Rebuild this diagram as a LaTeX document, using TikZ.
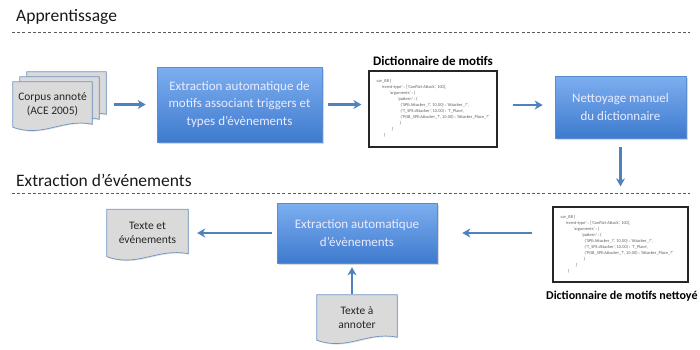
\documentclass[tikz,border=0pt]{standalone}
\usepackage{fontspec}
\setmainfont{Carlito}
\usetikzlibrary{arrows.meta,shadows,calc}
\definecolor{arrowblue}{RGB}{79,129,189}
\definecolor{boxtop}{RGB}{125,175,240}
\definecolor{boxbot}{RGB}{62,122,206}
\definecolor{boxedge}{RGB}{90,140,210}
\definecolor{docfill}{RGB}{218,218,218}
\definecolor{docedge}{RGB}{112,146,196}
\definecolor{dashgray}{RGB}{90,90,90}
\definecolor{codegray}{RGB}{95,95,95}
\tikzset{
  flow/.style={draw=arrowblue, line width=2.2pt, -{Stealth[length=8pt,width=9pt,inset=2.5pt]}},
  procbox/.style={rectangle, draw=boxedge, line width=0.6pt, top color=boxtop, bottom color=boxbot,
    text=white!92!blue, align=center, inner sep=0pt, font=\fontsize{13}{17.5}\selectfont,
    drop shadow={opacity=0.3, shadow xshift=1.5pt, shadow yshift=-1.5pt}},
  docnode/.style={rectangle, inner sep=0pt, align=center, text=black!85, font=\fontsize{11.5}{14.5}\selectfont},
  docshape/.style={draw=docedge, line width=0.7pt, fill=docfill},
  docshadow/.style={drop shadow={opacity=0.25, shadow xshift=1pt, shadow yshift=-1pt}},
  dictbox/.style={rectangle, draw=black!85, line width=1.2pt, fill=white, inner sep=0pt},
  codetxt/.style={inner sep=0pt, align=left, text=codegray, font=\fontsize{4.4}{6}\selectfont},
  dicttitle/.style={inner sep=0pt, font=\bfseries\fontsize{13}{15}\selectfont},
  section/.style={inner sep=0pt, anchor=west, font=\fontsize{17.5}{20}\selectfont, text=black!90},
  sepline/.style={draw=dashgray, line width=1pt, dash pattern=on 3pt off 2.2pt},
}
\newcommand{\docpath}[1]{%
  (#1.north west) -- (#1.north east) -- ([yshift=3pt]#1.south east)
  .. controls ($(#1.south west)!0.62!(#1.south east)+(0,-9)$) and ($(#1.south west)!0.38!(#1.south east)+(0,11)$) .. (#1.south west) -- cycle}
\newcommand{\codelines}{%
var\_BR \{\\
\hspace*{5pt}'event-type' : ['Conflict-Attack', 100],\\
\hspace*{13pt}'arguments' : \{\\
\hspace*{21pt}'pattern' : \{\\
\hspace*{24pt}('SPE:Attacker\_?', 10.00) : 'Attacker\_?',\\
\hspace*{24pt}('T\_SPE:Attacker', 10.00) : 'T\_Place',\\
\hspace*{24pt}('POB\_SPE:Attacker\_?', 10.00) : 'Attacker\_Place\_?'\\
\hspace*{23pt}\}\\
\hspace*{15pt}\}\\
\hspace*{7pt}\}}
\begin{document}
\begin{tikzpicture}[x=1pt,y=-1pt]
\useasboundingbox (0,0) rectangle (700,349);
% section titles and separators
\node[section] (t1) at (16,17) {Apprentissage};
\coordinate (l1a) at (12,32);
\coordinate (l1b) at (690,32);
\draw[sepline] (l1a) -- (l1b);
\node[section] (t2) at (16,180) {Extraction d’événements};
\coordinate (l2a) at (12,193);
\coordinate (l2b) at (690,193);
\draw[sepline] (l2a) -- (l2b);

% corpus stack
\node[docnode, minimum width=79pt, minimum height=45pt] (corpusB) at (66.5,94.5) {};
\node[docnode, minimum width=79pt, minimum height=45pt] (corpusM) at (59.5,99.5) {};
\node[docnode, minimum width=79pt, minimum height=45pt] (corpus) at (52.5,104.5) {};
\draw[docshape, docshadow] \docpath{corpusB};
\draw[docshape, docshadow] \docpath{corpusM};
\draw[docshape, docshadow] \docpath{corpus};
\node[docnode, minimum width=79pt, minimum height=45pt] (corpusT) at (corpus) {Corpus annoté\\(ACE 2005)};

% process boxes
\node[procbox, minimum width=165pt, minimum height=75pt] (procA) at (239.5,104.5)
  {Extraction automatique de\\motifs associant triggers et\\types d’évènements};
\node[procbox, minimum width=131pt, minimum height=62pt] (procB) at (620.5,107)
  {Nettoyage manuel\\du dictionnaire};
\node[procbox, minimum width=160pt, minimum height=60pt] (procC) at (357,233)
  {Extraction automatique\\d’évènements};

% dictionaries
\node[dictbox, minimum width=128pt, minimum height=76pt] (dictA) at (433,109) {};
\node[codetxt, anchor=north west] (codeA) at ($(dictA.north west)+(8,9)$) {\codelines};
\node[dicttitle, anchor=south] (dictAt) at ($(dictA.north)+(0,-5)$) {Dictionnaire de motifs};

\node[dictbox, minimum width=135pt, minimum height=75pt] (dictB) at (620.5,244.5) {};
\node[codetxt, anchor=north west] (codeB) at ($(dictB.north west)+(8,9)$) {\codelines};
\node[dicttitle, anchor=west, font=\bfseries\fontsize{12}{14}\selectfont] (dictBt) at (546,296) {Dictionnaire de motifs nettoyé};

% output / input documents
\node[docnode, minimum width=81pt, minimum height=47pt] (outdoc) at (147.5,233) {};
\draw[docshape, docshadow] \docpath{outdoc};
\node[docnode, minimum width=81pt, minimum height=47pt] (outdocT) at (outdoc) {Texte et\\événements};

\node[docnode, minimum width=80pt, minimum height=45pt] (indoc) at (357,317.5) {};
\draw[docshape, docshadow] \docpath{indoc};
\node[docnode, minimum width=80pt, minimum height=45pt] (indocT) at (indoc) {Texte à\\annoter};

% connectors
\draw[flow, shorten <=0pt, shorten >=11pt] ([xshift=8pt]corpusB.east |- procA.west) -- (procA.west);
\draw[flow, shorten <=6pt, shorten >=7pt] (procA.east) -- (procA.east -| dictA.west);
\draw[flow, shorten <=15pt, shorten >=12pt] ([yshift=4pt]dictA.east) -- ([yshift=4pt]dictA.east -| procB.west);
\draw[flow, shorten <=9pt, shorten >=20pt] (procB.south) -- (dictB.north);
\draw[flow, shorten <=20pt, shorten >=25pt] (procC.east -| dictB.west) -- (procC.east);
\draw[flow, shorten <=5pt, shorten >=9pt] (procC.west) -- (procC.west -| outdoc.east);
\draw[flow, shorten <=1pt, shorten >=4pt] ([xshift=-5pt]indoc.north) -- ([xshift=-5pt]procC.south);
\end{tikzpicture}
\end{document}
